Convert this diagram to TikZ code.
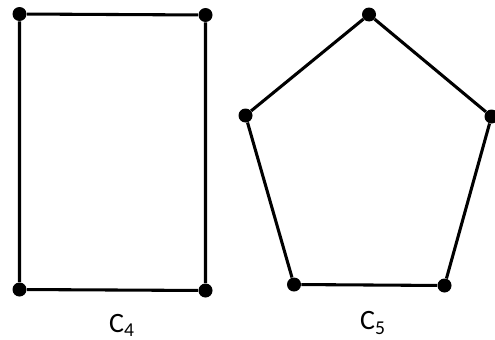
\documentclass[tikz,border=0pt]{standalone}
\usepackage{fontspec}
\setmainfont{Carlito}
\usetikzlibrary{positioning}
\tikzset{
  vertex/.style={circle, fill=black, inner sep=0pt, minimum size=10.5pt},
  edge/.style={line width=2.3pt},
  cyclename/.style={font=\fontsize{21}{25}\selectfont}
}

\begin{document}
\begin{tikzpicture}[x=0.75pt, y=-0.75pt]
    \useasboundingbox (0,0) rectangle (495,339);

    % C4
    \node[vertex] (a1) at (19.5, 14) {};
    \node[vertex] (a2) at (205.5, 15) {};
    \node[vertex] (a3) at (205.5, 290.5) {};
    \node[vertex] (a4) at (19.5, 289.5) {};
    \draw[edge] (a1) -- (a2) -- (a3) -- (a4) -- (a1);
    \node[cyclename] (c4) at (122, 325) {C\textsubscript{4}};

    % C5
    \node[vertex] (b1) at (369, 14.5) {};
    \node[vertex] (b2) at (491.5, 116.5) {};
    \node[vertex] (b3) at (444.5, 285.5) {};
    \node[vertex] (b4) at (294, 284.5) {};
    \node[vertex] (b5) at (245.5, 115.5) {};
    \draw[edge] (b1) -- (b2) -- (b3) -- (b4) -- (b5) -- (b1);
    \node[cyclename] (c5) at (373, 323) {C\textsubscript{5}};
\end{tikzpicture}
\end{document}
